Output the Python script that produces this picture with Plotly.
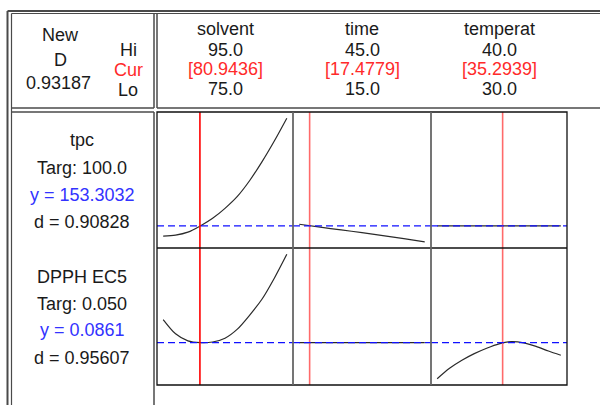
import plotly.graph_objects as go

# ---------------- data ----------------
factors = ["solvent", "time", "temperat"]
factor_hi = [95.0, 45.0, 40.0]
factor_lo = [75.0, 15.0, 30.0]
factor_cur = [80.9436, 17.4779, 35.2939]

responses = ["tpc", "DPPH EC5"]
resp_target = ["100.0", "0.050"]
resp_y = [153.3032, 0.0861]
resp_y_txt = ["153.3032", "0.0861"]
resp_d = ["0.90828", "0.95607"]
composite_D = "0.93187"

# tpc curves
solvent_x = [75, 77, 79, 81, 83, 85, 87, 89, 91, 93, 95]
tpc_solvent = [143.0, 144.0, 147.0, 153.3, 161.0, 171.0, 183.0, 199.0, 218.0, 239.0, 261.7]
time_x = [15, 20, 25, 30, 35, 40, 45]
tpc_time = [155.0, 152.0, 149.3, 146.5, 143.5, 140.5, 137.3]
temp_x_flat = [30, 35, 40]
tpc_temp = [153.3032, 153.3032, 153.3032]

# DPPH curves
dpph_solvent = [0.0976, 0.0905, 0.0870, 0.0861, 0.0864, 0.0883, 0.0928, 0.0998, 0.1078, 0.1183, 0.1301]
time_x_flat = [15, 30, 45]
dpph_time = [0.0861, 0.0861, 0.0861]
temp_x = [30, 31, 32, 33, 34, 35, 36, 37, 38, 39, 40]
dpph_temp = [0.0681, 0.0733, 0.0773, 0.0806, 0.0833, 0.0855, 0.0866, 0.0860, 0.0842, 0.0819, 0.0798]

curves = [
    [(solvent_x, tpc_solvent), (time_x, tpc_time), (temp_x_flat, tpc_temp)],
    [(solvent_x, dpph_solvent), (time_x_flat, dpph_time), (temp_x, dpph_temp)],
]

# ---------------- layout helpers ----------------
W, H = 600, 405
def px(x):
    return x / W
def py(y):
    return 1 - y / H

col_edges = [157, 293, 431, 567]
row_edges = [112, 248, 385]

FONT = "Liberation Sans, Arial, sans-serif"
FS = 18
BLACK = "#1a1a1a"
RED = "#ff2a2a"
BLUE = "#3333ff"
FRAME = "#4a4a4a"

fig = go.Figure()
layout = dict(
    width=W, height=H, margin=dict(l=0, r=0, t=0, b=0),
    paper_bgcolor="white", plot_bgcolor="white", showlegend=False,
)

shapes = []
annotations = []

for r in range(2):
    allv = [v for (_, ys) in curves[r] for v in ys]
    lo, hi = min(allv), max(allv)
    pad = 0.05 * (hi - lo)
    yr = [lo - pad, hi + pad]
    for c in range(3):
        i = r * 3 + c + 1
        sx = "" if i == 1 else str(i)
        xs, ys = curves[r][c]
        fig.add_trace(go.Scatter(
            x=xs, y=ys, mode="lines", xaxis="x" + sx, yaxis="y" + sx,
            line=dict(color="#2a2a2a", width=1.2, shape="spline", smoothing=0.8),
            hoverinfo="skip",
        ))
        xpad = 0.05 * (factor_hi[c] - factor_lo[c])
        layout["xaxis" + sx] = dict(
            domain=[px(col_edges[c]), px(col_edges[c + 1])],
            range=[factor_lo[c] - xpad, factor_hi[c] + xpad],
            anchor="y" + sx, showticklabels=False, showgrid=False,
            zeroline=False, showline=False, ticks="", fixedrange=True,
        )
        layout["yaxis" + sx] = dict(
            domain=[py(row_edges[r + 1]), py(row_edges[r])],
            range=yr, anchor="x" + sx, showticklabels=False, showgrid=False,
            zeroline=False, showline=False, ticks="", fixedrange=True,
        )
        # current factor setting (red vertical)
        shapes.append(dict(
            type="line", xref="x" + sx, yref="y" + sx + " domain",
            x0=factor_cur[c], x1=factor_cur[c], y0=0, y1=1,
            line=dict(color="#ff0000" if c == 0 else "#ff6a6a", width=1.6),
            layer="above",
        ))
        # current response (blue dashed)
        shapes.append(dict(
            type="line", xref="x" + sx + " domain", yref="y" + sx,
            x0=0, x1=1, y0=resp_y[r], y1=resp_y[r],
            line=dict(color="#1010ff", width=1.4, dash="7px,4px"),
            layer="above",
        ))

def pline(x0, y0, x1, y1, color=FRAME, width=1.5):
    shapes.append(dict(type="line", xref="paper", yref="paper",
                       x0=px(x0), y0=py(y0), x1=px(x1), y1=py(y1),
                       line=dict(color=color, width=width), layer="above"))

def prect(x0, y0, x1, y1, color=FRAME, width=1.5):
    shapes.append(dict(type="rect", xref="paper", yref="paper",
                       x0=px(x0), y0=py(y0), x1=px(x1), y1=py(y1),
                       line=dict(color=color, width=width), layer="above"))

# outer double frame
pline(7.5, 11, 600, 11, width=2)
pline(7.5, 11, 7.5, 405, width=2)
pline(11.5, 13.5, 600, 13.5, width=1.2)
pline(11.5, 13.5, 11.5, 405, width=1.2)
# header boxes
pline(154, 13.5, 154, 108)
pline(11.5, 108, 154, 108)
pline(157, 13.5, 157, 108)
pline(157, 108, 600, 108)
# left response box
pline(11.5, 112, 154, 112)
pline(154, 112, 154, 405)
# plot grid
prect(157, 112, 567, 385, color="#111111", width=1.3)
pline(157, 248, 567, 248, color="#111111", width=1.3)
pline(293, 112, 293, 385, color="#666666", width=1.8)
pline(431, 112, 431, 385, color="#666666", width=1.8)

def txt(x, y, s, color=BLACK, size=FS):
    annotations.append(dict(x=px(x), y=py(y), xref="paper", yref="paper",
                            text=s, showarrow=False, xanchor="center",
                            yanchor="middle", font=dict(family=FONT, size=size, color=color)))

txt(60, 35, "New")
txt(60, 60, "D")
txt(58, 83, composite_D)
txt(128, 50, "Hi")
txt(128, 70, "Cur", RED)
txt(128, 90, "Lo")

for c in range(3):
    cx = (col_edges[c] + col_edges[c + 1]) / 2
    txt(cx, 29, factors[c])
    txt(cx, 50, f"{factor_hi[c]:.1f}")
    txt(cx, 69, f"[{factor_cur[c]:.4f}]", RED)
    txt(cx, 89, f"{factor_lo[c]:.1f}")

left_y = [[140, 168, 195, 222], [277, 304, 330, 358]]
for r in range(2):
    ys = left_y[r]
    txt(82, ys[0], responses[r])
    txt(82, ys[1], f"Targ: {resp_target[r]}")
    txt(82, ys[2], f"y = {resp_y_txt[r]}", BLUE)
    txt(82, ys[3], f"d = {resp_d[r]}")

layout["shapes"] = shapes
layout["annotations"] = annotations
fig.update_layout(**layout)
fig.write_html(
    "out.html",
    config={"displayModeBar": False, "staticPlot": True},
    post_script="document.body.style.margin='0';document.body.style.overflow='hidden';",
)
